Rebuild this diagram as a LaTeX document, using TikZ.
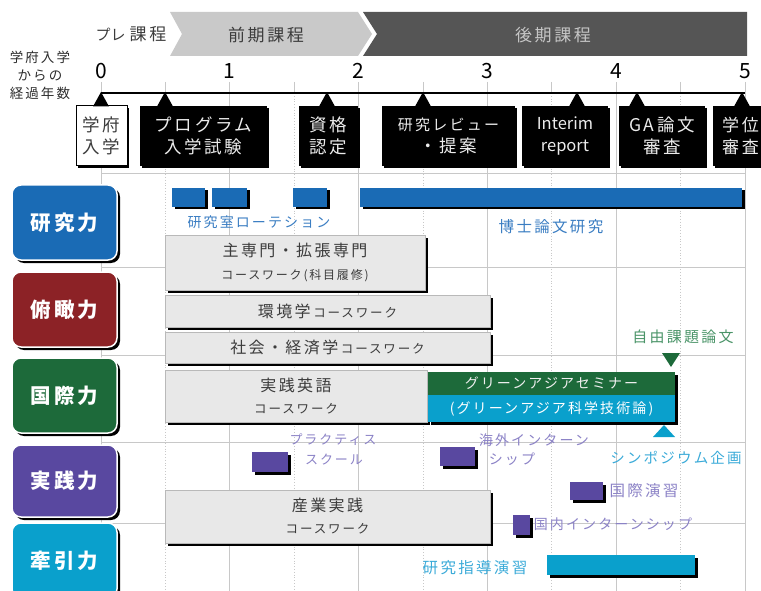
\documentclass[tikz,border=0pt]{standalone}
\usepackage{fontspec}
\setmainfont{Noto Sans CJK JP}
\newfontfamily\jp[LetterSpace=15]{Noto Sans CJK JP}
\usetikzlibrary{shadows}
\definecolor{cblue}{HTML}{1A6BB5}
\definecolor{cred}{HTML}{8C2226}
\definecolor{cgreen}{HTML}{1D6A3A}
\definecolor{cpurple}{HTML}{5948A0}
\definecolor{ccyan}{HTML}{0AA0CC}
\definecolor{tblue}{HTML}{3A7DC2}
\definecolor{tgreen}{HTML}{4A9468}
\definecolor{tcyan}{HTML}{3AAAD8}
\definecolor{tpurple}{HTML}{8B82C6}
\definecolor{cgrey}{HTML}{E8E8E8}
\definecolor{ctext}{HTML}{3C3C3C}
\definecolor{hdrlight}{HTML}{C9C9C9}
\definecolor{hdrdark}{HTML}{555555}
\definecolor{gridgray}{HTML}{C8C8C8}
\tikzset{
  shad/.style={drop shadow={shadow xshift=#1, shadow yshift=-#1, fill=black, opacity=1}},
  shad/.default=3pt,
  rect/.style args={#1/#2/#3/#4}{at={({(#1+#3)/2},{(#2+#4)/2})}, anchor=center,
    minimum width={(#3-#1)*1pt}, minimum height={(#4-#2)*1pt}, inner sep=0pt, outer sep=0pt},
  gridline/.style={draw=gridgray, line width=0.8pt},
  mst/.style={fill=black, align=center, text=gray!15,
    font=\jp\fontsize{17.5}{22}\selectfont, shad=2pt},
  mstw/.style={mst, fill=white, draw=black, line width=1pt, text=ctext},
  rowlab/.style={fill=#1, draw=white, line width=1.5pt, rounded corners=9pt,
    text=white, font=\jp\bfseries\fontsize{20.5}{22}\selectfont, shad=3pt},
  course/.style={fill=cgrey, draw=gray!55, line width=0.6pt, align=center,
    text=ctext, shad=3pt, font=\jp\fontsize{16}{22}\selectfont},
  bar/.style={fill=#1, shad=2.5pt},
  lab/.style={text=#1, inner sep=0pt, align=center, font=\jp\fontsize{14}{19}\selectfont}
}
\begin{document}
\begin{tikzpicture}[x=1pt,y=-1pt]
\useasboundingbox (0,0) rectangle (761,591);
% ---------- grid ----------
\foreach \t in {0,...,5}
  \draw[gridline] ({101+128.8*\t},82) -- ({101+128.8*\t},591);
\foreach \t in {0.5,1.5,2.5,3.5,4.5} {
  \draw[gridline] ({101+128.8*\t},82) -- ({101+128.8*\t},93);
  \draw[gridline, dotted] ({101+128.8*\t},93) -- ({101+128.8*\t},591);
}
\foreach \yy in {173,267,355,442,523}
  \draw[gridline] (101,\yy) -- (745,\yy);
% ---------- header ----------
\fill[hdrlight] (170,12) -- (358,12) -- (372,34) -- (358,56) -- (170,56) -- (182,34) -- cycle;
\fill[hdrdark] (363,12) -- (747,12) -- (747,56) -- (363,56) -- (377,34) -- cycle;
\node[text=ctext, inner sep=0pt] (pre) at (131,34)
  {\fontsize{15}{16}\selectfont プレ\hspace{4pt}{\jp\fontsize{17}{18}\selectfont 課程}};
\node[text=ctext, inner sep=0pt, font=\jp\fontsize{17}{18}\selectfont] (zenki) at (266,35) {前期課程};
\node[text=gray!45, inner sep=0pt, font=\jp\fontsize{17}{18}\selectfont] (kouki) at (553,35) {後期課程};
% ---------- axis ----------
\node[text=gray!35!black, align=center, inner sep=0pt, font=\jp\fontsize{13.5}{18}\selectfont] (cap) at (40,75)
  {学府入学\\からの\\経過年数};
\foreach \t in {0,...,5}
  \node[inner sep=0pt, font=\fontsize{21}{22}\selectfont] (n\t) at ({101+128.8*\t},71) {\t};
\coordinate (axL) at (101,93);
\coordinate (axR) at (745,93);
\draw[line width=1.8pt] (axL) -- (axR);
% ---------- milestones ----------
\node[mstw, rect=76/106/127/166] (m1) {学府\\入学};
\node[mst, rect=140/106/267/166] (m2) {プログラム\\入学試験};
\node[mst, rect=299/106/358/166] (m3) {資格\\認定};
\node[mst, rect=382/106/515/166] (m4) {{\fontsize{15}{22}\selectfont 研究レビュー}\\・提案};
\node[mst, rect=522/106/608/166, font=\normalfont\fontsize{16.5}{22}\selectfont] (m5) {Interim\\report};
\node[mst, rect=619/106/705/166] (m6) {GA論文\\審査};
\node[mst, rect=713/106/768/166, font=\jp\fontsize{17}{22}\selectfont] (m7) {学位\\審査};
\foreach \px in {101,165,327,423,577,637,742}
  \fill (\px-8,106.5) -- (\px,92) -- (\px+8,106.5) -- cycle;
% ---------- row labels ----------
\node[rowlab=cblue,   rect=12/185/117/260] (r1) {研究力};
\node[rowlab=cred,    rect=12/272/117/347] (r2) {俯瞰力};
\node[rowlab=cgreen,  rect=12/358/117/433] (r3) {国際力};
\node[rowlab=cpurple, rect=12/445/117/517] (r4) {実践力};
\node[rowlab=ccyan,   rect=12/523/117/598] (r5) {牽引力};
% ---------- research row ----------
\node[bar=cblue, rect=172/188/205/207] (b1) {};
\node[bar=cblue, rect=212/188/247/207] (b2) {};
\node[bar=cblue, rect=293/188/327/207] (b3) {};
\node[bar=cblue, rect=360/188/742/207] (b4) {};
\node[lab=tblue] (rot) at (259,222) {研究室ローテション};
\node[lab=tblue, font=\jp\fontsize{15.5}{19}\selectfont] (phd) at (551,227) {博士論文研究};
% ---------- course boxes ----------
\node[course, rect=165/235/425/290] (cA)
  {主専門・拡張専門\\[1pt]{\jp\fontsize{12}{16}\selectfont コースワーク(科目履修)}};
\node[course, rect=165/295/490/327] (cB)
  {環境学\,{\jp\fontsize{12.5}{20}\selectfont コースワーク}};
\node[course, rect=165/332/490/363] (cC)
  {社会・経済学\,{\jp\fontsize{12.5}{20}\selectfont コースワーク}};
\node[course, rect=165/370/427/422] (cD)
  {実践英語\\{\jp\fontsize{12.5}{16}\selectfont コースワーク}};
\node[course, rect=165/490/490/543] (cE)
  {産業実践\\{\jp\fontsize{12.5}{16}\selectfont コースワーク}};
% ---------- green asia ----------
\node[bar=cgreen, rect=428/372/675/395, text=gray!12, font=\jp\fontsize{14}{16}\selectfont] (gs) {グリーンアジアセミナー};
\node[bar=ccyan, rect=428/395/675/422, text=white, font=\jp\fontsize{14}{16}\selectfont] (gc) {(グリーンアジア科学技術論)};
\fill[cgreen] (662,353) -- (680,353) -- (671,367) -- cycle;
\fill[ccyan] (653,437) -- (664,425) -- (675,437) -- cycle;
\node[lab=tgreen, font=\jp\fontsize{15}{19}\selectfont] (jiyu) at (683,337) {自由課題論文};
\node[lab=tcyan, font=\jp\fontsize{14.5}{19}\selectfont] (symp) at (676,458) {シンポジウム企画};
% ---------- practice row ----------
\node[bar=cpurple, rect=252/452/288/472] (p1) {};
\node[bar=cpurple, rect=440/447/475/466] (p2) {};
\node[bar=cpurple, rect=570/482/603/500] (p3) {};
\node[bar=cpurple, rect=513/515/530/535] (p4) {};
\node[lab=tpurple, font=\jp\fontsize{13}{19}\selectfont] (prac1) at (333,440) {プラクティス};
\node[lab=tpurple, font=\jp\fontsize{13}{19}\selectfont] (prac2) at (334,460) {スクール};
\node[lab=tpurple, font=\jp\fontsize{14}{19}\selectfont] (kaigai1) at (534,440) {海外インターン};
\node[lab=tpurple, font=\jp\fontsize{14}{19}\selectfont] (kaigai2) at (512,459) {シップ};
\node[lab=tpurple, font=\jp\fontsize{15.5}{19}\selectfont] (kokusai) at (644,491) {国際演習};
\node[lab=tpurple, font=\jp\fontsize{14}{19}\selectfont] (kokunai) at (613,524) {国内インターンシップ};
% ---------- leadership row ----------
\node[bar=ccyan, rect=547/555/695/575] (k1) {};
\node[lab=tcyan, font=\jp\fontsize{15.5}{19}\selectfont] (shido) at (475,568) {研究指導演習};
\end{tikzpicture}
\end{document}
